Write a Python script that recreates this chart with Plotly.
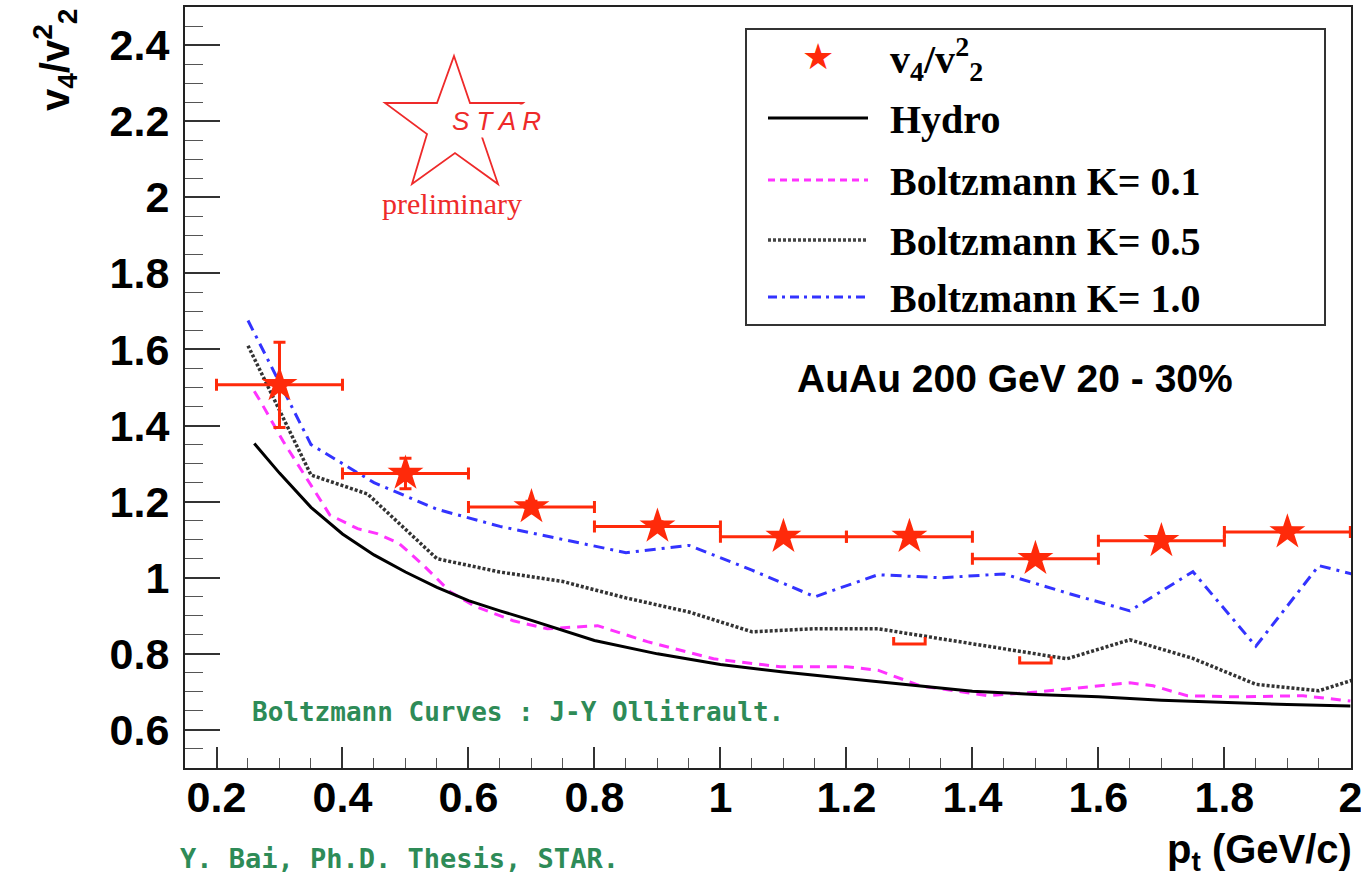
import plotly.graph_objects as go

# ---------------- data ----------------
pt = [0.3, 0.5, 0.7, 0.9, 1.1, 1.3, 1.5, 1.7, 1.9]
ratio = [1.507, 1.274, 1.186, 1.135, 1.108, 1.108, 1.050, 1.097, 1.120]
ratio_err = [0.112, 0.040, 0.015, 0.012, 0.010, 0.010, 0.010, 0.010, 0.010]
pt_halfwidth = [0.1, 0.1, 0.1, 0.1, 0.1, 0.1, 0.1, 0.1, 0.1]

sys_pt = [1.3, 1.5]
sys_low = [0.826, 0.776]

hydro_x = [0.26, 0.30, 0.35, 0.40, 0.45, 0.50, 0.55, 0.60, 0.65, 0.70, 0.80, 0.90,
           1.00, 1.10, 1.20, 1.30, 1.40, 1.50, 1.60, 1.70, 1.80, 1.90, 2.00]
hydro_y = [1.353, 1.275, 1.185, 1.115, 1.060, 1.015, 0.975, 0.940, 0.913, 0.888, 0.835, 0.800,
           0.772, 0.752, 0.735, 0.718, 0.702, 0.693, 0.687, 0.678, 0.672, 0.667, 0.663]

k01_x = [0.26, 0.27, 0.306, 0.346, 0.38, 0.424, 0.455, 0.49, 0.529, 0.571, 0.61, 0.671, 0.725,
         0.805, 0.884, 0.989, 1.095, 1.20, 1.25, 1.317, 1.424, 1.503, 1.65, 1.687, 1.741, 1.82,
         1.925, 2.00]
k01_y = [1.49, 1.463, 1.358, 1.253, 1.165, 1.129, 1.116, 1.090, 1.032, 0.963, 0.925, 0.887, 0.866,
         0.874, 0.832, 0.787, 0.766, 0.766, 0.757, 0.716, 0.690, 0.700, 0.724, 0.716, 0.690, 0.687,
         0.690, 0.676]

k05_x = [0.25, 0.35, 0.44, 0.55, 0.65, 0.75, 0.85, 0.95, 1.05, 1.15, 1.25, 1.35, 1.45, 1.55,
         1.65, 1.75, 1.85, 1.95, 2.05]
k05_y = [1.610, 1.270, 1.220, 1.050, 1.015, 0.990, 0.947, 0.910, 0.858, 0.866, 0.866, 0.840,
         0.813, 0.787, 0.837, 0.788, 0.720, 0.703, 0.755]

k10_x = [0.25, 0.35, 0.45, 0.55, 0.65, 0.75, 0.85, 0.95, 1.05, 1.15, 1.25, 1.35, 1.45, 1.55,
         1.65, 1.75, 1.85, 1.95, 2.05]
k10_y = [1.676, 1.350, 1.250, 1.180, 1.135, 1.100, 1.066, 1.085, 1.020, 0.950, 1.008, 1.000,
         1.010, 0.960, 0.913, 1.016, 0.820, 1.032, 0.990]

legend_labels = ["v<sub>4</sub>/v<sup>2</sup><sub>2</sub>", "Hydro", "Boltzmann K= 0.1",
                 "Boltzmann K= 0.5", "Boltzmann K= 1.0"]

# ---------------- styles ----------------
RED = "#ff2a0a"
MAG = "#ff33ff"
BLUE = "#3333ff"
GREEN = "#2e8b57"
LOGO_RED = "#ee2a2a"

W, H = 1361, 889
L, R, T, B = 185, 1351, 7, 768


def px(x):
    return (x - L) / (R - L)


def py(y):
    return (B - y) / (B - T)


fig = go.Figure()

fig.add_trace(go.Scatter(x=k10_x, y=k10_y, mode="lines", name=legend_labels[4],
                         line=dict(color=BLUE, width=3, dash="11px,6px,3px,6px"),
                         showlegend=False))
fig.add_trace(go.Scatter(x=k05_x, y=k05_y, mode="lines", name=legend_labels[3],
                         line=dict(color="#333333", width=3.5, dash="3px,2px"),
                         showlegend=False))
fig.add_trace(go.Scatter(x=k01_x, y=k01_y, mode="lines", name=legend_labels[2],
                         line=dict(color=MAG, width=3, dash="10px,7px"),
                         showlegend=False))
fig.add_trace(go.Scatter(x=hydro_x, y=hydro_y, mode="lines", name=legend_labels[1],
                         line=dict(color="black", width=3), showlegend=False))

# systematic brackets (lower)
bx, by = [], []
hw, hh = 0.025, 0.018
for xv, yv in zip(sys_pt, sys_low):
    bx += [xv - hw, xv - hw, xv + hw, xv + hw, None]
    by += [yv + hh, yv, yv, yv + hh, None]
fig.add_trace(go.Scatter(x=bx, y=by, mode="lines", line=dict(color=RED, width=3),
                         showlegend=False, hoverinfo="skip"))

fig.add_trace(go.Scatter(
    x=pt, y=ratio, mode="markers", name=legend_labels[0],
    marker=dict(symbol="star", size=27, color=RED, line=dict(width=0)),
    error_x=dict(type="data", array=pt_halfwidth, color=RED, thickness=3, width=6),
    error_y=dict(type="data", array=ratio_err, color=RED, thickness=3, width=6),
    showlegend=False))

tickfont = dict(family="Liberation Sans", size=43, color="black", weight="bold")

fig.update_xaxes(range=[0.15, 2.001], tick0=0.2, dtick=0.2, ticks="inside", ticklen=21,
                 tickwidth=1.5, tickcolor="#333333", tickfont=tickfont,
                 showline=True, linewidth=2, linecolor="#222222", mirror=True,
                 showgrid=False, zeroline=False, ticklabelstandoff=-10,
                 ticklabeloverflow="allow", automargin=False,
                 minor=dict(dtick=0.05, ticks="inside", ticklen=10, tickwidth=1.2,
                            tickcolor="#555555", showgrid=False))
fig.update_yaxes(range=[0.5, 2.5], tick0=0.2, dtick=0.2, ticks="inside", ticklen=35,
                 tickwidth=1.5, tickcolor="#333333", tickfont=tickfont,
                 showline=True, linewidth=2, linecolor="#222222", mirror=True,
                 showgrid=False, zeroline=False, ticklabelstandoff=5, automargin=False,
                 minor=dict(dtick=0.05, ticks="inside", ticklen=18, tickwidth=1.2,
                            tickcolor="#555555", showgrid=False))

shapes = []
ann = []

# ---- manual legend ----
shapes.append(dict(type="rect", xref="paper", yref="paper", x0=px(746), x1=px(1325),
                   y0=py(325), y1=py(29), line=dict(color="#333333", width=2),
                   fillcolor="white", layer="below"))
entry_y = [57, 118, 180, 240, 297]
legfont = dict(family="Liberation Serif", size=40, color="black", weight="bold")
ann.append(dict(x=px(818), y=py(entry_y[0]), xref="paper", yref="paper", text="★",
                showarrow=False, font=dict(family="DejaVu Sans", size=36, color=RED),
                xanchor="center", yanchor="middle"))
line_styles = [None,
               dict(color="black", width=3),
               dict(color=MAG, width=3, dash="7px,5px"),
               dict(color="#444444", width=3.5, dash="3px,2px"),
               dict(color=BLUE, width=3, dash="9px,5px,3px,5px")]
for i in range(1, 5):
    shapes.append(dict(type="line", xref="paper", yref="paper", x0=px(768), x1=px(868),
                       y0=py(entry_y[i]), y1=py(entry_y[i]), line=line_styles[i]))
for i, lab in enumerate(legend_labels):
    ann.append(dict(x=px(888), y=py(entry_y[i] + 2), xref="paper", yref="paper", text=lab,
                    showarrow=False, font=legfont, xanchor="left", yanchor="middle"))

# ---- texts ----
ann.append(dict(x=px(795), y=py(378), xref="paper", yref="paper",
                text="AuAu 200 GeV 20 - 30%", showarrow=False,
                font=dict(family="Liberation Sans", size=39, color="black", weight="bold"),
                xanchor="left", yanchor="middle"))
ann.append(dict(x=px(250), y=py(712), xref="paper", yref="paper",
                text="Boltzmann Curves : J-Y Ollitrault.", showarrow=False,
                font=dict(family="DejaVu Sans Mono", size=26, color=GREEN, weight="bold"),
                xanchor="left", yanchor="middle"))
ann.append(dict(x=px(178), y=py(858), xref="paper", yref="paper",
                text="Y. Bai, Ph.D. Thesis, STAR.", showarrow=False,
                font=dict(family="DejaVu Sans Mono", size=27, color=GREEN, weight="bold"),
                xanchor="left", yanchor="middle"))
ann.append(dict(x=px(1354), y=py(852), xref="paper", yref="paper",
                text="p<sub>t</sub> (GeV/c)", showarrow=False,
                font=dict(family="Liberation Sans", size=40, color="black", weight="bold"),
                xanchor="right", yanchor="middle"))
ann.append(dict(x=px(55), y=py(60), xref="paper", yref="paper",
                text="v<sub>4</sub>/v<sup>2</sup><sub>2</sub>", showarrow=False, textangle=-90,
                font=dict(family="Liberation Sans", size=40, color="black", weight="bold"),
                xanchor="center", yanchor="middle"))

# ---- STAR preliminary logo ----
star_px = [(454, 56), (470, 103), (523, 103), (482, 137), (498, 184), (455, 153),
           (412, 184), (427, 134), (385, 103), (437, 103)]
path = "M " + " L ".join(f"{px(a):.5f},{py(b):.5f}" for a, b in star_px) + " Z"
shapes.append(dict(type="path", xref="paper", yref="paper", path=path,
                   line=dict(color=LOGO_RED, width=1.8), fillcolor="rgba(0,0,0,0)"))
ann.append(dict(x=px(496), y=py(121), xref="paper", yref="paper", text="<i>S T A R</i>",
                showarrow=False, bgcolor="white",
                font=dict(family="Liberation Sans", size=26, color=LOGO_RED),
                xanchor="center", yanchor="middle"))
ann.append(dict(x=px(452), y=py(203), xref="paper", yref="paper", text="preliminary",
                showarrow=False,
                font=dict(family="Liberation Serif", size=30, color=LOGO_RED),
                xanchor="center", yanchor="middle"))

fig.update_layout(width=W, height=H, margin=dict(l=L, r=W - R, t=T, b=H - B),
                  paper_bgcolor="white", plot_bgcolor="white",
                  shapes=shapes, annotations=ann, showlegend=False)

fig.write_html("out.html")
